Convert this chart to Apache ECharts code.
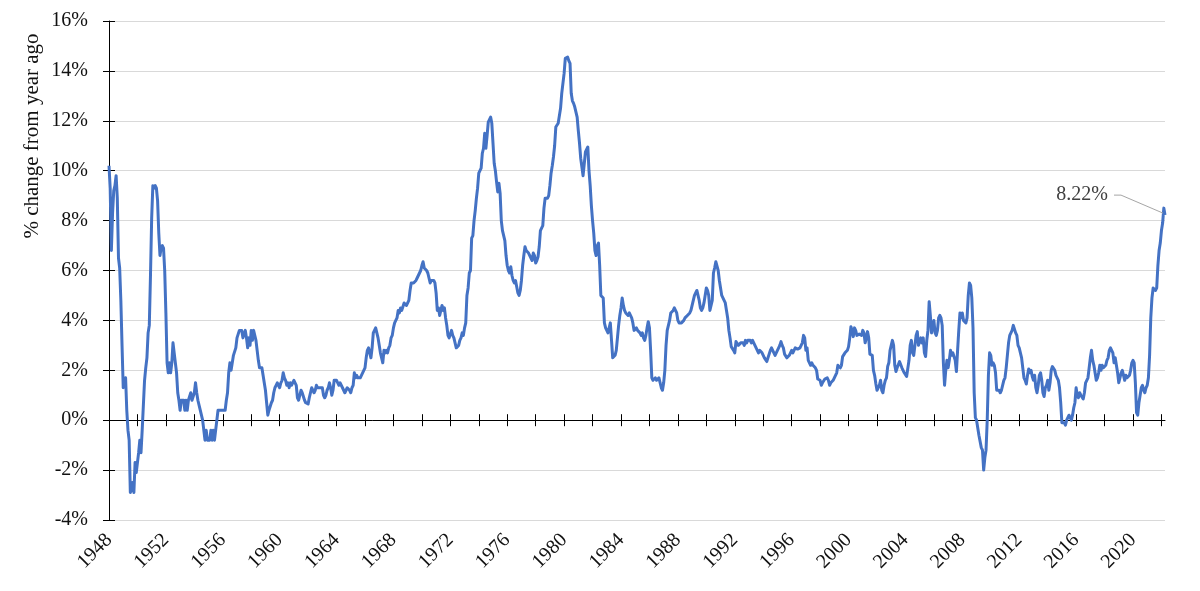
<!DOCTYPE html>
<html>
<head>
<meta charset="utf-8">
<script src="https://cdn.jsdelivr.net/npm/echarts/dist/echarts.min.js"></script>
<style>
html,body{margin:0;padding:0;background:#fff;}
#chart{width:1200px;height:591px;}
</style>
</head>
<body>
<div id="chart"></div>
<script>
// Monthly CPI, % change from a year ago (Jan 1948 .. Apr 2022)
const startYear = 1948;
const yTickMin = -4, yTickMax = 16, yTickStep = 2;
const axisTitle = '% change from year ago';

const cpi1940s = [
  10.2, 9.3, 6.8, 8.3, 9.2, 9.4, 9.8, 8.9, 6.5, 6.1, 4.8, 3.0,
  1.3, 1.3, 1.7, 0.4, -0.4, -0.8, -2.9, -2.9, -2.5, -2.9, -1.7, -2.1
];
const cpi1950s = [
  -2.1, -1.3, -0.8, -1.3, -0.4, -0.4, 1.6, 2.1, 2.5, 3.5, 3.8, 5.8,
  8.1, 9.4, 9.3, 9.4, 9.3, 8.8, 7.5, 6.6, 6.9, 7.0, 6.9, 6.0,
  4.3, 2.3, 1.9, 2.3, 1.9, 2.3, 3.1, 3.1, 2.3, 1.9, 1.1, 0.8,
  0.4, 0.8, 0.8, 0.8, 0.4, 0.8, 0.4, 0.8, 0.8, 1.1, 0.8, 0.8,
  1.1, 1.5, 1.1, 0.8, 0.8, 0.4, 0.4, 0.0, -0.4, -0.8, -0.4, -0.8,
  -0.8, -0.8, -0.4, -0.8, -0.4, -0.8, -0.4, -0.4, 0.4, 0.4, 0.4, 0.4,
  0.4, 0.4, 0.4, 0.8, 1.1, 1.9, 2.3, 2.0, 2.3, 2.6, 2.6, 2.9,
  3.3, 3.3, 3.6, 3.6, 3.6, 3.3, 3.3, 3.6, 3.3, 2.9, 3.3, 3.0,
  3.6, 3.2, 3.6, 3.6, 3.2, 2.8, 2.4, 2.1, 2.1, 2.1, 1.8, 1.8,
  1.2, 0.7, 0.2, 0.4, 0.4, 0.7, 0.8, 1.1, 1.3, 1.4, 1.5, 1.5
];
const cpi1960s = [
  1.3, 1.5, 1.6, 1.9, 1.7, 1.6, 1.4, 1.5, 1.3, 1.5, 1.4, 1.5,
  1.6, 1.5, 1.4, 0.9, 0.8, 0.8, 1.2, 1.1, 1.1, 0.8, 0.7, 0.7,
  0.65, 0.9, 1.1, 1.3, 1.2, 1.1, 1.2, 1.4, 1.3, 1.3, 1.3, 1.3,
  1.3, 1.0, 0.9, 1.0, 1.2, 1.3, 1.5, 1.3, 1.0, 1.2, 1.6, 1.6,
  1.6, 1.5, 1.4, 1.5, 1.5, 1.3, 1.3, 1.1, 1.2, 1.3, 1.3, 1.2,
  1.1, 1.3, 1.4, 1.9, 1.7, 1.8, 1.7, 1.7, 1.7, 1.8, 1.9, 1.9,
  2.1, 2.5, 2.8, 2.9, 2.7, 2.5, 2.9, 3.5, 3.6, 3.7, 3.5, 3.3,
  3.0, 2.7, 2.5, 2.3, 2.8, 2.7, 2.8, 2.7, 2.9, 3.0, 3.3, 3.4,
  3.7, 3.9, 4.0, 4.1, 4.4, 4.3, 4.5, 4.4, 4.4, 4.7, 4.7, 4.6,
  4.7, 4.8, 5.2, 5.5, 5.5, 5.5, 5.5, 5.6, 5.7, 5.7, 5.9, 6.0
];
const cpi1970s = [
  6.2, 6.35, 6.1, 6.1, 6.0, 5.9, 5.7, 5.5, 5.6, 5.6, 5.6, 5.5,
  5.1, 4.4, 4.5, 4.2, 4.4, 4.6, 4.4, 4.5, 4.1, 3.8, 3.4, 3.3,
  3.3, 3.6, 3.4, 3.3, 3.1, 2.9, 2.9, 3.0, 3.2, 3.3, 3.5, 3.4,
  3.7, 3.9, 5.0, 5.3, 5.9, 6.0, 7.3, 7.4, 8.0, 8.4, 8.9, 9.3,
  9.9, 10.0, 10.1, 10.7, 10.9, 11.5, 10.9, 11.4, 11.95, 12.0, 12.15, 11.9,
  11.1, 10.3, 10.0, 9.55, 9.15, 9.5, 9.1, 8.0, 7.6, 7.4, 7.2, 6.6,
  6.2, 6.0, 5.9, 6.15, 5.8, 5.6, 5.5, 5.6, 5.35, 5.1, 5.0, 5.2,
  5.6, 6.2, 6.6, 6.95, 6.8, 6.75, 6.7, 6.6, 6.5, 6.4, 6.7, 6.6,
  6.3, 6.4, 6.55, 6.95, 7.6, 7.7, 7.8, 8.5, 8.9, 8.95, 8.9, 9.0,
  9.4, 9.9, 10.2, 10.55, 11.0, 11.75, 11.8, 11.9, 11.95, 12.5, 13.1, 13.5
];
const cpi1980s = [
  13.9, 14.5, 14.55, 14.55, 14.4, 14.3, 13.1, 12.8, 12.7, 12.55, 12.5, 12.15,
  11.6, 11.1, 10.5, 10.15, 9.8, 9.75, 10.75, 10.8, 10.95, 10.0, 9.4, 8.6,
  8.0, 7.5, 6.8, 6.6, 7.0, 7.1, 6.2, 5.0, 5.0, 4.9, 3.9, 3.7,
  3.6, 3.5, 3.7, 3.9, 3.2, 2.5, 2.5, 2.6, 2.8, 3.3, 3.8, 4.2,
  4.5, 4.9, 4.6, 4.4, 4.3, 4.3, 4.2, 4.3, 4.2, 4.1, 3.9, 3.6,
  3.6, 3.7, 3.6, 3.6, 3.5, 3.4, 3.5, 3.3, 3.2, 3.4, 3.7, 3.95,
  3.7, 2.8, 1.7, 1.6, 1.6, 1.7, 1.6, 1.6, 1.7, 1.5, 1.3, 1.2,
  1.5, 2.0, 3.0, 3.6, 3.8, 4.0, 4.3, 4.3, 4.4, 4.5, 4.4, 4.3,
  4.0, 3.9, 3.9, 3.9, 3.9, 4.0, 4.1, 4.15, 4.2, 4.2, 4.3, 4.4,
  4.6, 4.8, 5.0, 5.1, 5.2, 5.0, 4.8, 4.5, 4.4, 4.5, 4.7, 5.0
];
const cpi1990s = [
  5.3, 5.2, 5.0, 4.4, 4.6, 4.8, 5.9, 6.1, 6.35, 6.3, 6.0, 5.6,
  5.3, 5.0, 4.9, 4.8, 4.7, 4.4, 4.1, 3.6, 3.3, 2.95, 2.9, 2.8,
  2.7, 3.15, 3.1, 3.0, 3.0, 3.1, 3.15, 3.1, 3.0, 3.2, 3.1, 3.2,
  3.2, 3.2, 3.1, 3.2, 3.15, 3.0, 2.9, 2.8, 2.7, 2.8, 2.8, 2.7,
  2.6, 2.5, 2.5, 2.35, 2.4, 2.65, 2.8, 2.9, 2.9, 2.7, 2.6, 2.7,
  2.8, 2.9, 3.0, 3.15, 3.0, 2.9, 2.65, 2.6, 2.5, 2.5, 2.6, 2.6,
  2.8, 2.7, 2.8, 2.9, 2.9, 2.85, 2.9, 2.9, 3.0, 3.1, 3.4, 3.3,
  2.8, 2.9, 2.4, 2.4, 2.2, 2.3, 2.2, 2.15, 2.1, 2.0, 1.65, 1.7,
  1.6, 1.4, 1.5, 1.5, 1.65, 1.7, 1.7, 1.6, 1.4, 1.5, 1.5, 1.6,
  1.7, 1.7, 1.9, 2.2, 2.2, 2.1, 2.2, 2.55, 2.6, 2.7, 2.7, 2.8
];
const cpi2000s = [
  2.95, 3.3, 3.75, 3.6, 3.35, 3.7, 3.6, 3.4, 3.45, 3.45, 3.45, 3.4,
  3.6, 3.5, 3.1, 3.3, 3.55, 3.3, 2.65, 2.7, 2.6, 2.0, 1.8, 1.47,
  1.2, 1.13, 1.4, 1.6, 1.2, 1.1, 1.4, 1.6, 1.7, 2.15, 2.3, 2.8,
  3.0, 3.2, 3.0, 2.2, 1.95, 2.1, 2.1, 2.35, 2.3, 2.1, 2.0, 1.9,
  1.9, 1.75, 1.8, 2.4, 3.0, 3.2, 2.7, 2.6, 2.6, 3.4, 3.55, 3.0,
  3.0, 3.3, 3.1, 3.3, 2.7, 2.55, 3.2, 3.6, 4.75, 4.2, 3.5, 3.5,
  4.0, 3.5, 3.4, 3.6, 4.1, 4.2, 4.1, 3.8, 2.3, 1.4, 2.0, 2.4,
  2.1, 2.4, 2.8, 2.6, 2.7, 2.75, 2.4, 1.95, 2.8, 3.6, 4.3, 4.1,
  4.3, 4.0, 4.0, 3.9, 4.1, 5.0, 5.5, 5.4, 4.9, 3.7, 1.1, 0.1,
  0.0, 0.0, -0.6, -0.6, -1.1, -1.2, -2.0, -1.5, -1.2, 0.0, 1.8, 2.7
];
const cpi2010s = [
  2.6, 2.2, 2.3, 2.2, 1.9, 1.2, 1.2, 1.2, 1.1, 1.2, 1.2, 1.6,
  1.7, 2.1, 2.6, 3.1, 3.4, 3.5, 3.6, 3.8, 3.8, 3.5, 3.4, 3.0,
  2.9, 2.7, 2.5, 2.1, 1.7, 1.6, 1.45, 1.8, 2.05, 1.9, 2.0, 1.75,
  1.6, 1.8, 1.3, 1.1, 1.4, 1.8, 1.9, 1.6, 1.1, 0.95, 1.3, 1.4,
  1.6, 1.2, 1.5, 2.0, 2.15, 2.1, 2.0, 1.8, 1.7, 1.6, 1.3, 0.7,
  -0.1, -0.1, -0.1, -0.2, 0.0, 0.1, 0.2, 0.2, 0.0, 0.2, 0.5, 0.7,
  1.3, 1.0, 0.9, 1.1, 1.0, 1.0, 0.85, 1.1, 1.5, 1.6, 1.7, 2.1,
  2.5, 2.8, 2.4, 2.2, 1.9, 1.6, 1.7, 1.9, 2.2, 2.0, 2.2, 2.1,
  2.1, 2.2, 2.4, 2.5, 2.8, 2.9, 2.9, 2.7, 2.3, 2.5, 2.2, 1.9,
  1.5, 1.5, 1.9, 2.0, 1.8, 1.6, 1.8, 1.7, 1.7, 1.8, 2.0, 2.3
];
const cpi2020s = [
  2.4, 2.3, 1.5, 0.3, 0.2, 0.7, 1.0, 1.3, 1.4, 1.2, 1.1, 1.3,
  1.4, 1.7, 2.6, 4.1, 4.9, 5.3, 5.3, 5.2, 5.3, 6.2, 6.8, 7.1,
  7.6, 7.9, 8.5, 8.22
];

const values = [].concat(cpi1940s, cpi1950s, cpi1960s, cpi1970s, cpi1980s,
                         cpi1990s, cpi2000s, cpi2010s, cpi2020s);
const months = values.map(function (v, i) {
  const y = startYear + Math.floor(i / 12);
  const m = (i % 12) + 1;
  return y + '-' + (m < 10 ? '0' + m : '' + m);
});

const FONT = '"Liberation Serif", "Times New Roman", serif';
const tickEvery = 24;   // a tick every 2 years
const labelEvery = 48;  // a label every 4 years

const chart = echarts.init(document.getElementById('chart'), null, {renderer: 'canvas'});

const baseX = {
  type: 'category', data: months, boundaryGap: false, gridIndex: 0,
  position: 'bottom', splitLine: {show: false}
};

chart.setOption({
  animation: false,
  backgroundColor: '#ffffff',
  grid: {left: 109, right: 35, top: 21, bottom: 71, containLabel: false},
  xAxis: [
    Object.assign({}, baseX, {
      axisLine: {show: true, onZero: true, lineStyle: {color: '#000', width: 1}},
      axisTick: {show: true, inside: false, length: 6, interval: function (i) { return i % tickEvery === 0; }, lineStyle: {color: '#000', width: 1}},
      axisLabel: {show: false}
    }),
    Object.assign({}, baseX, {
      axisLine: {show: false, onZero: true},
      axisTick: {show: true, inside: true, length: 6, interval: function (i) { return i % tickEvery === 0; }, lineStyle: {color: '#000', width: 1}},
      axisLabel: {show: false}
    }),
    Object.assign({}, baseX, {
      axisLine: {show: false, onZero: false},
      axisTick: {show: false},
      axisLabel: {
        show: true, rotate: 45, margin: 17,
        interval: function (i) { return i % labelEvery === 0; },
        formatter: function (v) { return v.slice(0, 4); },
        fontFamily: FONT, fontSize: 20, color: '#111'
      }
    })
  ],
  yAxis: [
    {
      type: 'value', min: yTickMin, max: yTickMax, interval: yTickStep, position: 'left',
      axisLine: {show: true, onZero: false, lineStyle: {color: '#000', width: 1}},
      axisTick: {show: true, inside: false, length: 6, lineStyle: {color: '#000', width: 1}},
      axisLabel: {formatter: function (v) { return v + '%'; }, margin: 21, fontFamily: FONT, fontSize: 20, color: '#111'},
      splitLine: {show: true, lineStyle: {color: '#D9D9D9', width: 1}}
    },
    {
      type: 'value', min: yTickMin, max: yTickMax, interval: yTickStep, position: 'left',
      axisLine: {show: false, onZero: false},
      axisTick: {show: true, inside: true, length: 6, lineStyle: {color: '#000', width: 1}},
      axisLabel: {show: false},
      splitLine: {show: false}
    }
  ],
  series: [{
    type: 'line', xAxisIndex: 0, yAxisIndex: 0, data: values,
    showSymbol: false, symbol: 'none', smooth: false, silent: true,
    lineStyle: {color: '#4472C4', width: 3, join: 'round'},
    itemStyle: {color: '#4472C4'},
    z: 5
  }],
  graphic: [{
    type: 'text', x: 32, y: 136, rotation: Math.PI / 2,
    style: {text: axisTitle, align: 'center', verticalAlign: 'middle', font: '21px ' + FONT, fill: '#111'}
  }]
});

// annotation of the last value, anchored to the last data point
const lastIdx = values.length - 1;
const p = chart.convertToPixel({seriesIndex: 0}, [lastIdx, values[lastIdx]]);
chart.setOption({
  graphic: [
    {
      type: 'text', x: 32, y: 136, rotation: Math.PI / 2,
      style: {text: axisTitle, align: 'center', verticalAlign: 'middle', font: '21px ' + FONT, fill: '#111'}
    },
    {
      type: 'polyline', z: 10,
      shape: {points: [[p[0] - 51, p[1] - 20], [p[0] - 44, p[1] - 20], [p[0] - 2, p[1] - 2]]},
      style: {stroke: '#A6A6A6', lineWidth: 1, fill: null}
    },
    {
      type: 'text', x: p[0] - 57, y: p[1] - 20, z: 10,
      style: {text: values[lastIdx].toFixed(2) + '%', align: 'right', verticalAlign: 'middle', font: '20px ' + FONT, fill: '#404040'}
    }
  ]
});
</script>
</body>
</html>
